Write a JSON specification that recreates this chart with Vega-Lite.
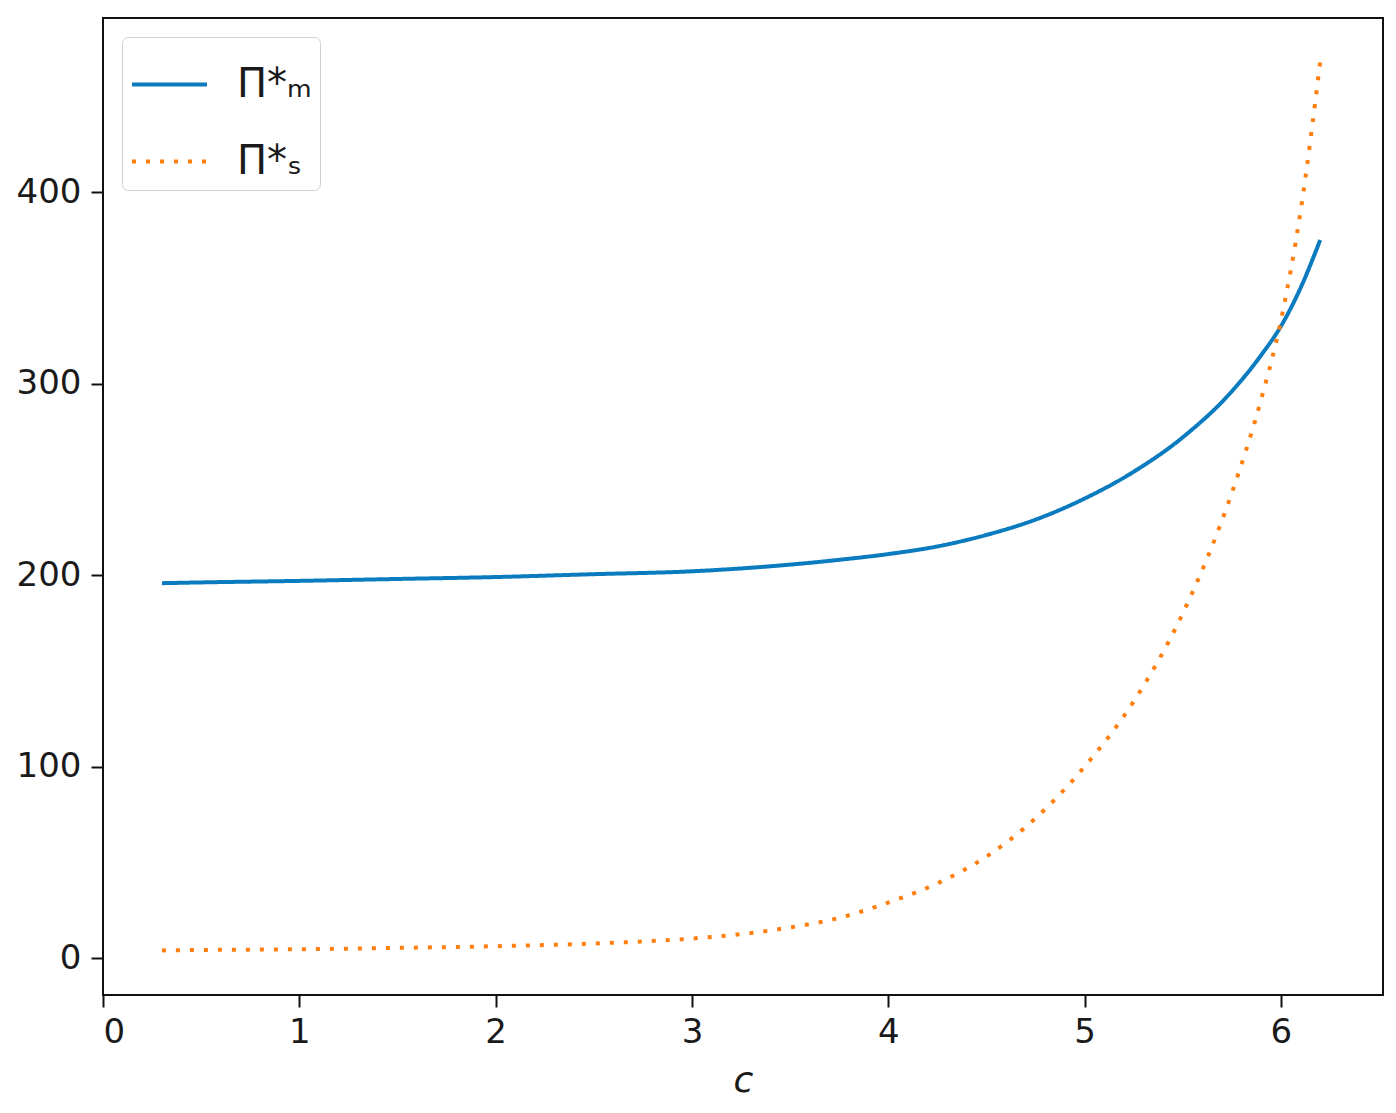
{
  "$schema": "https://vega.github.io/schema/vega-lite/v6.json",
  "autosize": {"type": "none"},
  "padding": {"left": 103, "top": 18, "right": 13, "bottom": 118},
  "width": 1280,
  "height": 977,
  "background": "white",
  "config": {
    "view": {"stroke": "#111111", "strokeWidth": 2},
    "font": "DejaVu Sans, sans-serif",
    "axis": {
      "domain": false,
      "grid": false,
      "tickColor": "#111111",
      "tickWidth": 2,
      "tickSize": 12,
      "labelColor": "#1a1a1a",
      "labelFontSize": 34,
      "labelFont": "DejaVu Sans, sans-serif"
    }
  },
  "data": {
    "values": [
      {"c": 0.3, "v": 195.8, "s": "m"},
      {"c": 0.5, "v": 196.2, "s": "m"},
      {"c": 1.0, "v": 197.0, "s": "m"},
      {"c": 1.5, "v": 198.0, "s": "m"},
      {"c": 2.0, "v": 199.0, "s": "m"},
      {"c": 2.5, "v": 200.5, "s": "m"},
      {"c": 3.0, "v": 202.0, "s": "m"},
      {"c": 3.25, "v": 203.5, "s": "m"},
      {"c": 3.5, "v": 205.5, "s": "m"},
      {"c": 3.75, "v": 208.0, "s": "m"},
      {"c": 4.0, "v": 211.0, "s": "m"},
      {"c": 4.25, "v": 215.0, "s": "m"},
      {"c": 4.5, "v": 221.0, "s": "m"},
      {"c": 4.75, "v": 229.0, "s": "m"},
      {"c": 5.0, "v": 240.0, "s": "m"},
      {"c": 5.25, "v": 254.0, "s": "m"},
      {"c": 5.5, "v": 272.0, "s": "m"},
      {"c": 5.75, "v": 296.0, "s": "m"},
      {"c": 5.9, "v": 315.0, "s": "m"},
      {"c": 6.0, "v": 330.0, "s": "m"},
      {"c": 6.1, "v": 350.0, "s": "m"},
      {"c": 6.2, "v": 375.0, "s": "m"},
      {"c": 0.3, "v": 4.0, "s": "s"},
      {"c": 0.5, "v": 4.2, "s": "s"},
      {"c": 1.0, "v": 4.6, "s": "s"},
      {"c": 1.5, "v": 5.3, "s": "s"},
      {"c": 2.0, "v": 6.2, "s": "s"},
      {"c": 2.5, "v": 7.6, "s": "s"},
      {"c": 3.0, "v": 10.2, "s": "s"},
      {"c": 3.25, "v": 12.5, "s": "s"},
      {"c": 3.5, "v": 16.0, "s": "s"},
      {"c": 3.75, "v": 21.0, "s": "s"},
      {"c": 4.0, "v": 29.0, "s": "s"},
      {"c": 4.25, "v": 39.0, "s": "s"},
      {"c": 4.5, "v": 53.0, "s": "s"},
      {"c": 4.75, "v": 73.0, "s": "s"},
      {"c": 5.0, "v": 100.0, "s": "s"},
      {"c": 5.25, "v": 134.0, "s": "s"},
      {"c": 5.5, "v": 180.0, "s": "s"},
      {"c": 5.75, "v": 243.0, "s": "s"},
      {"c": 5.9, "v": 292.0, "s": "s"},
      {"c": 6.0, "v": 333.0, "s": "s"},
      {"c": 6.1, "v": 390.0, "s": "s"},
      {"c": 6.2, "v": 468.0, "s": "s"}
    ]
  },
  "mark": {"type": "line", "interpolate": "monotone", "strokeWidth": 4, "strokeCap": "butt"},
  "encoding": {
    "x": {
      "field": "c", "type": "quantitative",
      "scale": {"domain": [0, 6.52], "nice": false, "zero": false},
      "axis": {"values": [0, 1, 2, 3, 4, 5, 6], "labelPadding": 8, "title": "c", "titleFontStyle": "italic", "titleFontWeight": "normal", "titleFontSize": 36, "titleColor": "#1a1a1a", "titlePadding": 14, "titleFont": "DejaVu Sans"}
    },
    "y": {
      "field": "v", "type": "quantitative",
      "scale": {"domain": [-19.3, 491], "nice": false, "zero": false},
      "axis": {"values": [0, 100, 200, 300, 400], "labelPadding": 10, "title": null}
    },
    "color": {
      "field": "s", "type": "nominal",
      "scale": {"domain": ["m", "s"], "range": ["#0a7bbf", "#ff7f0e"]},
      "legend": {
        "title": null,
        "orient": "top-left",
        "offset": 19,
        "labelExpr": "datum.value == 'm' ? 'Π*ₘ' : 'Π*ₛ'",
        "labelFontSize": 40,
        "labelColor": "#1a1a1a",
        "labelFont": "DejaVu Sans, sans-serif",
        "labelOffset": 28,
        "symbolType": "stroke",
        "symbolSize": 5625,
        "symbolStrokeWidth": 4,
        "rowPadding": 17,
        "padding": 8,
        "strokeColor": "#d0d0d0",
        "fillColor": "white",
        "cornerRadius": 6
      }
    },
    "strokeDash": {
      "field": "s", "type": "nominal",
      "scale": {"domain": ["m", "s"], "range": [[1, 0], [4, 10]]},
      "legend": null
    }
  }
}
